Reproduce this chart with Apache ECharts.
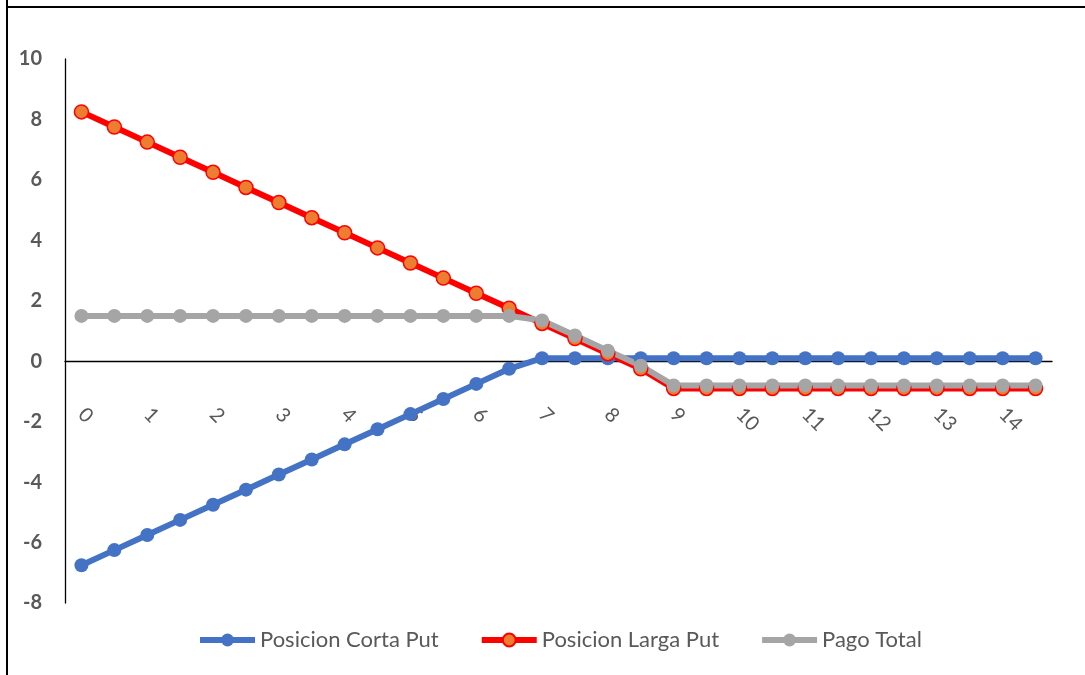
<!DOCTYPE html>
<html>
<head>
<meta charset="utf-8">
<script src="https://cdn.jsdelivr.net/npm/echarts@6/dist/echarts.min.js"></script>
<style>
html,body{margin:0;padding:0;background:#fff;}
#chart{width:1085px;height:675px;}
</style>
</head>
<body>
<div id="chart"></div>
<script>
const categories = ["0","0.5","1","1.5","2","2.5","3","3.5","4","4.5","5","5.5","6","6.5","7","7.5","8","8.5","9","9.5","10","10.5","11","11.5","12","12.5","13","13.5","14","14.5"];
const cortaPut = [-6.75,-6.25,-5.75,-5.25,-4.75,-4.25,-3.75,-3.25,-2.75,-2.25,-1.75,-1.25,-0.75,-0.25,0.1,0.1,0.1,0.1,0.1,0.1,0.1,0.1,0.1,0.1,0.1,0.1,0.1,0.1,0.1,0.1];
const largaPut = [8.25,7.75,7.25,6.75,6.25,5.75,5.25,4.75,4.25,3.75,3.25,2.75,2.25,1.75,1.25,0.75,0.25,-0.25,-0.9,-0.9,-0.9,-0.9,-0.9,-0.9,-0.9,-0.9,-0.9,-0.9,-0.9,-0.9];
const pagoTotal = [1.5,1.5,1.5,1.5,1.5,1.5,1.5,1.5,1.5,1.5,1.5,1.5,1.5,1.5,1.35,0.85,0.35,-0.15,-0.8,-0.8,-0.8,-0.8,-0.8,-0.8,-0.8,-0.8,-0.8,-0.8,-0.8,-0.8];
const seriesNames = ["Posicion Corta Put","Posicion Larga Put","Pago Total"];
const yMin = -8, yMax = 10, yStep = 2;

const FONT = 'Lato, "Open Sans", sans-serif';
const gridTop = 59, gridBottom = 72, chartH = 675;
const plotH = chartH - gridTop - gridBottom;
const zeroOffset = -plotH * (0 - yMin) / (yMax - yMin);

const chart = echarts.init(document.getElementById('chart'), null, {renderer:'canvas'});
chart.setOption({
  backgroundColor:'#ffffff',
  animation:false,
  grid:{left:65, right:33, top:gridTop, bottom:gridBottom, containLabel:false},
  legend:{
    bottom:19, left:192,
    itemWidth:55, itemHeight:16, itemGap:40,
    lineStyle:{width:6},
    textStyle:{fontFamily:FONT, fontSize:22, color:'#595959'},
    data:seriesNames
  },
  xAxis:{
    type:'category', data:categories, boundaryGap:true,
    offset: zeroOffset,
    axisLine:{onZero:false, lineStyle:{color:'#000', width:1.3}},
    axisTick:{show:false},
    axisLabel:{interval:1, rotate:-45, margin:50, fontFamily:FONT, fontSize:20, color:'#595959'},
    splitLine:{show:false}
  },
  yAxis:{
    type:'value', min:yMin, max:yMax, interval:yStep,
    axisLine:{show:true, lineStyle:{color:'#000', width:1.3}},
    axisTick:{show:false},
    axisLabel:{margin:23, fontFamily:FONT, fontSize:20, fontWeight:'bold', color:'#595959'},
    splitLine:{show:false}
  },
  series:[
    {name:seriesNames[0], type:'line', data:cortaPut, symbol:'circle', symbolSize:14,
     lineStyle:{color:'#4472C4', width:6}, itemStyle:{color:'#4472C4'}},
    {name:seriesNames[1], type:'line', data:largaPut, symbol:'circle', symbolSize:14,
     lineStyle:{color:'#FF0000', width:6}, itemStyle:{color:'#ED7D31', borderColor:'#FF0000', borderWidth:1.5}},
    {name:seriesNames[2], type:'line', data:pagoTotal, symbol:'circle', symbolSize:14,
     lineStyle:{color:'#A5A5A5', width:6}, itemStyle:{color:'#A5A5A5'}}
  ],
  graphic:[
    {type:'line', shape:{x1:7, y1:0, x2:7, y2:675}, style:{stroke:'#000', lineWidth:2}},
    {type:'line', shape:{x1:6, y1:7, x2:1085, y2:7}, style:{stroke:'#000', lineWidth:2}}
  ]
});
</script>
</body>
</html>
